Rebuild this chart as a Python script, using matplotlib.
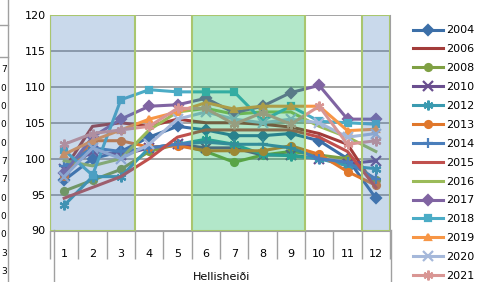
import matplotlib
matplotlib.use('Agg')
import matplotlib.pyplot as plt
from matplotlib.lines import Line2D

# Category labels (months) and yearly series
months = [1, 2, 3, 4, 5, 6, 7, 8, 9, 10, 11, 12]
y2004 = [97, 100, 101, 103, 104.5, 104, 103.2, 103.2, 103.5, 102.5, 100, 94.5]
y2006 = [98.5, 104.5, 105, 104.5, 105.5, 105, 105, 104.8, 104.4, 103.5, 102, 96]
y2008 = [95.5, 97, 98.5, 101, 102, 101, 99.5, 100.5, 101, 100.5, 100, 97]
y2010 = [98.5, 101, 100.5, 101.5, 102, 101.5, 101.5, 100.5, 100.5, 100, 99.3, 99.7]
y2012 = [93.5, 97.5, 97.5, 101.5, 102, 102.7, 102, 100.6, 100.4, 100, 99, 98.6]
y2013 = [97.6, 102.5, 102.5, 101.6, 101.8, 101.1, 101.1, 101.1, 101.8, 100.6, 98.2, 96.3]
y2014 = [99, 101.5, 101, 101.5, 102, 102.3, 102, 102, 101.5, 100, 99.5, 97.2]
y2015 = [94.5, 96, 97.5, 100, 103, 104, 104, 104, 104, 103, 101, 96]
y2016 = [99.7, 99, 100, 104, 106.5, 107, 106.2, 106.5, 106.5, 104.5, 103, 101]
y2017 = [98, 103, 105.5, 107.3, 107.5, 108.4, 106.4, 107.3, 109.2, 110.2, 105.5, 105.5]
y2018 = [101.2, 97.7, 108.2, 109.6, 109.3, 109.3, 109.3, 105.3, 107.3, 105.2, 105, 104.8]
y2019 = [100.6, 102.5, 104, 105.5, 106.5, 107.8, 106.9, 107.3, 107.3, 107.3, 103.9, 104.1]
y2020 = [97.5, 101.5, 100, 102, 105.5, 106.5, 105.5, 105, 105.5, 105, 103, 103.5]
y2021 = [102, 103.5, 104, 104.5, 107, 107, 104.8, 106.4, 104.8, 107.3, 102, 102.5]

years = ['2004', '2006', '2008', '2010', '2012', '2013', '2014',
         '2015', '2016', '2017', '2018', '2019', '2020', '2021']
series = [y2004, y2006, y2008, y2010, y2012, y2013, y2014,
          y2015, y2016, y2017, y2018, y2019, y2020, y2021]
xlabel = 'Hellisheiði'

# table fragment cut off at the left edge of the screenshot
side_digits = ['7', '0', '0', '0', '0', '7', '7', '0', '0', '0', '3', '3']

colors = ['#3c6fa8', '#a33c3a', '#7fa043', '#6a4f8f', '#3a9ab0', '#e0772b', '#4a7ebb',
          '#c0504d', '#9bbb59', '#8064a2', '#4bacc6', '#f79646', '#a5b8da', '#d99694']
markers = ['D', None, 'o', 'x', (6, 2, 0), 'o', '+',
           None, None, 'D', 's', '^', 'x', (6, 2, 0)]

plt.rcParams['font.family'] = ['DejaVu Sans']

fig = plt.figure(figsize=(4.86, 2.82), dpi=100)
ax = fig.add_axes([50 / 486, 1 - 230.5 / 282, 340 / 486, 215.5 / 282])

for vals, name, c, m in zip(series, years, colors, markers):
    ms = 7 if m in ('x', '+') or isinstance(m, tuple) else 5
    ax.plot(months, vals, color=c, lw=2.2, marker=m, ms=ms, mew=1.6,
            label=name, zorder=3)

# shaded month groups, drawn on top like in the original
for a, b, fc in [(0.5, 3.5, (0.31, 0.51, 0.74, 0.3)),
                 (5.5, 9.5, (0.0, 0.69, 0.31, 0.3)),
                 (11.5, 12.5, (0.31, 0.51, 0.74, 0.3))]:
    ax.axvspan(a, b, facecolor=fc, edgecolor='#a9c66f', lw=1.5, zorder=4)

ax.set_xlim(0.5, 12.5)
ax.set_ylim(90, 120)
ax.set_yticks(range(90, 121, 5))
ax.yaxis.grid(True, color='#8a8a8a', lw=1.1)
ax.set_axisbelow(True)
ax.tick_params(axis='y', length=0, pad=3, labelsize=8)

ax.set_xticks(months)
ax.set_xticks([i + 0.5 for i in range(0, 13)], minor=True)
ax.tick_params(axis='x', which='major', length=0, pad=13, labelsize=8)
ax.tick_params(axis='x', which='minor', length=20, color='#a0a0a0', width=1)

ax.spines['top'].set_visible(False)
for s in ['left', 'right', 'bottom']:
    ax.spines[s].set_color('#a0a0a0')

# long outer separators of the category axis
for xp in [53.5, 390.5]:
    fig.add_artist(Line2D([xp / 486, xp / 486], [0, 1 - 230 / 282],
                          color='#a0a0a0', lw=1))

fig.text(221.5 / 486, 1 - 272 / 282, xlabel, ha='center', va='top', fontsize=8)

leg = fig.legend(loc='upper left', bbox_to_anchor=(403 / 486, 1 - 15.5 / 282),
                 frameon=False, fontsize=8, handlelength=2.7, handletextpad=0.3,
                 labelspacing=0.80, borderpad=0.4)

# left-edge table fragment
fig.add_artist(Line2D([7.5 / 486, 7.5 / 486], [0, 1], color='#a0a0a0', lw=1))
fig.add_artist(Line2D([0, 7.5 / 486], [1 - 25 / 282, 1 - 25 / 282], color='#a0a0a0', lw=1))
fig.add_artist(Line2D([0, 7.5 / 486], [1 - 57 / 282, 1 - 57 / 282], color='#a0a0a0', lw=1))
for i, d in enumerate(side_digits):
    fig.text(0.8 / 486, 1 - (70 + 18.3 * i) / 282, d, ha='left', va='center', fontsize=6.5)

fig.savefig('out.png', dpi=100)
